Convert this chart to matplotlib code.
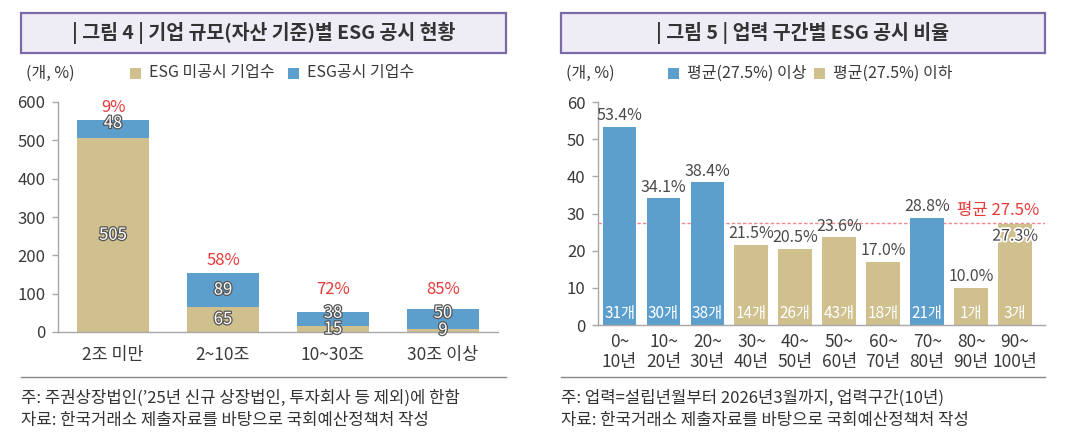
import matplotlib
matplotlib.use("Agg")
import matplotlib.pyplot as plt
from matplotlib.patches import Rectangle
import matplotlib.patheffects as pe

plt.rcParams['font.family'] = ['Noto Sans CJK KR', 'DejaVu Sans']

# ---------------- data ----------------
size_categories = ["2조 미만", "2~10조", "10~30조", "30조 이상"]
non_disclosed = [505, 65, 15, 9]
disclosed = [48, 89, 38, 50]
disclosed_pct_labels = ["9%", "58%", "72%", "85%"]

age_categories = ["0~\n10년", "10~\n20년", "20~\n30년", "30~\n40년", "40~\n50년",
                  "50~\n60년", "60~\n70년", "70~\n80년", "80~\n90년", "90~\n100년"]
age_rates = [53.4, 34.1, 38.4, 21.5, 20.5, 23.6, 17.0, 28.8, 10.0, 27.3]
age_counts = [31, 30, 38, 14, 26, 43, 18, 21, 1, 3]
average_rate = 27.5

title_left = "| 그림 4 | 기업 규모(자산 기준)별 ESG 공시 현황"
title_right = "| 그림 5 | 업력 구간별 ESG 공시 비율"
legend_left = ["ESG 미공시 기업수", "ESG공시 기업수"]
legend_right = ["평균(27.5%) 이상", "평균(27.5%) 이하"]
unit_label = "(개, %)"
notes_left = ["주: 주권상장법인(’25년 신규 상장법인, 투자회사 등 제외)에 한함",
              "자료: 한국거래소 제출자료를 바탕으로 국회예산정책처 작성"]
notes_right = ["주: 업력=설립년월부터 2026년3월까지, 업력구간(10년)",
               "자료: 한국거래소 제출자료를 바탕으로 국회예산정책처 작성"]

# ---------------- style ----------------
BLUE = "#5c9fcd"
TAN = "#cfc08e"
RED = "#e8393a"
TXT = "#3a3a3a"
SPINE = "#a8a8a8"
BOX_FILL = "#eeecf5"
BOX_EDGE = "#7b6aa6"

W, H = 1080, 442
fig = plt.figure(figsize=(W / 100, H / 100), dpi=100)
fig.patch.set_facecolor("white")


def fx(px):
    return px / W


def fy(py):
    return 1 - py / H


def title_box(x0, x1, text):
    fig.add_artist(Rectangle((fx(x0), fy(53)), fx(x1 - x0), (53 - 13) / H,
                             transform=fig.transFigure, facecolor=BOX_FILL,
                             edgecolor=BOX_EDGE, linewidth=1.6))
    fig.text(fx((x0 + x1) / 2), fy(33), text, ha="center", va="center",
             fontsize=14, fontweight="bold", color="#333333")


def legend_item(x, label, color):
    fig.add_artist(Rectangle((fx(x), fy(79)), fx(11), 11 / H,
                             transform=fig.transFigure, facecolor=color,
                             edgecolor="none"))
    fig.text(fx(x + 19), fy(73), label, ha="left", va="center",
             fontsize=11.5, color=TXT)


def style_axes(ax):
    for s in ["top", "right"]:
        ax.spines[s].set_visible(False)
    ax.spines["left"].set_color(SPINE)
    ax.spines["bottom"].set_color(SPINE)
    ax.spines["left"].set_linewidth(1.0)
    ax.spines["bottom"].set_linewidth(1.0)
    ax.tick_params(axis="y", colors=SPINE, labelcolor=TXT, labelsize=12,
                   length=4, width=1, pad=5)
    ax.tick_params(axis="x", length=0, labelcolor=TXT, labelsize=12)


outline = [pe.withStroke(linewidth=1.8, foreground="#555555")]
white_outline = [pe.withStroke(linewidth=2.5, foreground="white")]

# ---------------- left chart ----------------
title_box(21, 506, title_left)
fig.text(fx(26), fy(73), unit_label, ha="left", va="center", fontsize=11.5, color=TXT)
legend_item(130, legend_left[0], TAN)
legend_item(288, legend_left[1], BLUE)

axL = fig.add_axes([fx(58), fy(332), fx(498 - 58), (332 - 102) / H])
xs = list(range(len(size_categories)))
axL.bar(xs, non_disclosed, width=0.66, color=TAN)
axL.bar(xs, disclosed, width=0.66, bottom=non_disclosed, color=BLUE)
axL.set_xlim(-0.5, 3.5)
axL.set_ylim(0, 600)
axL.set_yticks([0, 100, 200, 300, 400, 500, 600])
axL.set_xticks(xs)
axL.set_xticklabels(size_categories)
axL.tick_params(axis="x", pad=10)
style_axes(axL)
axL.tick_params(axis="x", labelsize=12.5)

for i in xs:
    nd, d = non_disclosed[i], disclosed[i]
    tot = nd + d
    axL.text(i, nd / 2, str(nd), ha="center", va="center", fontsize=12,
             color="white", path_effects=outline)
    yb = nd + d / 2 if d >= 60 else nd + d / 2 + 15
    axL.text(i, yb, str(d), ha="center", va="center", fontsize=12,
             color="white", path_effects=outline)
    axL.text(i, max(tot, 80) + 32, disclosed_pct_labels[i], ha="center",
             va="center", fontsize=12, color=RED)

fig.add_artist(plt.Line2D([fx(21), fx(506)], [fy(377), fy(377)],
                          transform=fig.transFigure, color="#888888", lw=1))
for k, t in enumerate(notes_left):
    fig.text(fx(21), fy(398 + 23 * k), t, ha="left", va="center",
             fontsize=12, color="#333333")

# ---------------- right chart ----------------
title_box(561, 1045, title_right)
fig.text(fx(566), fy(73), unit_label, ha="left", va="center", fontsize=11.5, color=TXT)
legend_item(668, legend_right[0], BLUE)
legend_item(814, legend_right[1], TAN)

axR = fig.add_axes([fx(598), fy(325), fx(1045 - 598), (325 - 102) / H])
xr = list(range(len(age_categories)))
colors = [BLUE if r >= average_rate else TAN for r in age_rates]
axR.bar(xr, age_rates, width=0.77, color=colors)
axR.set_xlim(-0.49, 9.68)
axR.set_ylim(0, 60)
axR.set_yticks([0, 10, 20, 30, 40, 50, 60])
axR.set_xticks(xr)
axR.set_xticklabels(age_categories, linespacing=1.15)
style_axes(axR)
axR.tick_params(axis="x", pad=6, labelsize=12.5)

axR.axhline(average_rate, color="#f08a8a", lw=1, ls=(0, (2.5, 1.5)), zorder=0.5)
axR.text(9.55, average_rate + 0.9, f"평균 {average_rate}%", ha="right", va="bottom",
         fontsize=12, color=RED)

for i in xr:
    r = age_rates[i]
    if abs(r - average_rate) < 0.5:
        axR.text(i, r - 3.4, f"{r:.1f}%", ha="center", va="center", fontsize=11.5,
                 color="#4a4a4a", path_effects=white_outline)
    else:
        axR.text(i, r + 3.0, f"{r:.1f}%", ha="center", va="center", fontsize=11.5,
                 color="#4a4a4a")
    axR.text(i, 3.2, f"{age_counts[i]}개", ha="center", va="center",
             fontsize=11, color="white")

fig.add_artist(plt.Line2D([fx(561), fx(1045)], [fy(377), fy(377)],
                          transform=fig.transFigure, color="#888888", lw=1))
for k, t in enumerate(notes_right):
    fig.text(fx(561), fy(398 + 23 * k), t, ha="left", va="center",
             fontsize=12, color="#333333")

fig.savefig("out.png", dpi=100)
